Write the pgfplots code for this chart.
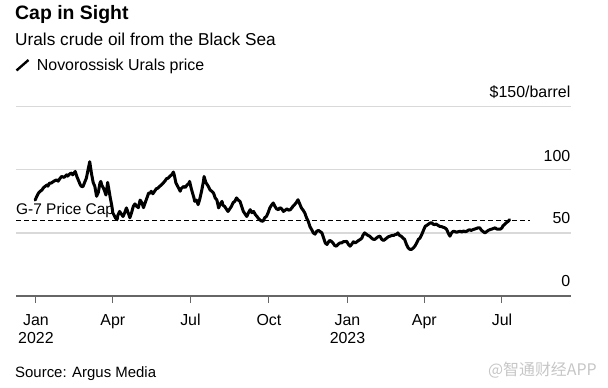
\documentclass[border=0pt]{standalone}
\usepackage{pgfplots}
\pgfplotsset{compat=1.18}
\usepackage{pgfplotstable}
\usepackage{fontspec}
\setmainfont{Liberation Sans}
\newfontfamily\cjk{Noto Sans CJK SC}
\definecolor{gridgray}{HTML}{D9D9D9}
\definecolor{axisgray}{HTML}{666666}

% day = days since 1 Jan 2022; price = USD/barrel
\pgfplotstableread{
day price
-1 76
1 79
3 81.6
5 83
7 84
9 86
13 88
14 87
16 89.5
18 89.5
21 91
24 92
26 91
28 93
30 94.7
33 94
36 96
37 95
40 97
42 97.4
43 96
46 98.7
48 94.5
52 88
53 87
55 86.6
57 90
59 93.3
61 100
63 106.4
65 97.2
67 90
69 86.8
71 79
73 82
75 89.5
76 90.8
77 88
79 85.5
80 84
82 80
84 90
85 86
87 78
89 71
90 66
93 62
95 60.5
96 64
98 67
100 65
102 63
104 66
106 69.8
108 66
110 62
112 66
114 71
116 73
118 71
120 70
122 76
124 74
126 70
128 74
130 77.7
132 81.6
134 81.6
135 83
137 81
139 83
141 85
143 85.5
145 87
147 88
149 89.5
151 91
153 93
155 93.4
157 95
159 96
161 98.2
162 96
164 89.5
166 87
169 83
170 85
173 86.8
175 86
177 88
179 89
180 90.8
182 85
184 80.3
185 78
186 75
188 76
190 72.4
192 77
194 83
196 90
197 94.7
199 90
202 86.8
204 84
206 83
208 81.6
210 77.7
212 76
214 69.8
216 73
218 75
219 72
221 71
223 69
225 67
227 69
229 71
231 74
233 75
235 77.7
237 76
239 75
241 71
243 67
245 65
247 63
249 66
251 68.4
253 66
255 67
257 64.5
259 63
260 62
262 60.5
264 59.5
266 59.2
268 62
270 63
272 66
274 69.8
276 72
278 73.7
280 71
282 69
284 68.4
286 70
288 69
290 67
292 68
294 69
296 68
298 68.4
300 70
301 71
303 72.4
305 74
307 76.3
309 73
311 69.8
313 68
315 65.8
317 62
319 59.2
321 55
323 52.6
325 50
327 49
329 51.3
331 52
333 51
335 50
337 46
339 42
341 40.8
342 42
344 44
346 43.4
348 42
350 40
352 39.5
354 41
356 42
358 42
360 43
362 43
364 43.4
366 41
368 39.5
370 41
372 43
374 42
376 43
378 44
380 44.8
382 46
383 48
385 50
387 49
389 48
391 47.4
393 46
395 45
397 44.8
399 46
401 47
403 47.4
405 45
407 44
409 44.8
411 46
413 47
415 47.4
417 48
419 48
421 48.7
423 49
424 50
426 48
428 47.4
430 46
432 44.8
434 41
436 38.2
438 37
440 36.9
442 38
444 39.5
446 42
448 44.8
450 46
452 48.7
454 52
456 55.2
458 56
460 57
462 57.9
464 58
465 57
467 56.6
469 57
471 56
473 55.2
475 55
477 54.5
479 54
481 53
483 50
485 47.4
487 50
489 51.3
491 51
493 50.5
495 51
497 51.3
499 50.7
501 51.5
503 51
505 51.3
506 52
508 52.5
510 52
512 52.6
514 53
516 53.5
518 54
520 54
522 52
524 51
526 50
528 51
530 52
532 52.6
534 53
536 53.5
538 54
540 53
542 53
544 53
546 54
547 55.5
549 56.6
551 58
553 59
555 60.5
}\urals

\pgfplotstableread{
day cap
-23.4 60
579 60
}\capline

\begin{document}
\begin{tikzpicture}
\useasboundingbox (0bp,0bp) rectangle (608bp,388bp);
\begin{axis}[
  at={(16bp,92bp)}, anchor=south west,
  scale only axis, width=554.5bp, height=189.3bp,
  xmin=-23.4, xmax=626.3, ymin=0, ymax=150,
  axis x line*=bottom, axis y line*=left,
  y axis line style={draw=none},
  x axis line style={axisgray, line width=1.2bp},
  xtick={0,90,181,273,365,455,546},
  xticklabels={{Jan\\2022},Apr,Jul,Oct,{Jan\\2023},Apr,Jul},
  xtick align=outside,
  major tick length=7bp,
  x tick style={axisgray, line width=1bp},
  xticklabel style={font=\fontsize{16}{18.6}\selectfont, align=center, text=black, inner sep=0pt, yshift=-11bp},
  ytick={50,100,150},
  yticklabels={},
  y tick style={draw=none},
  ymajorgrids,
  major y grid style={gridgray, line width=1.3bp},
  clip=false,
]
\addplot[black, line width=1.2bp, dash pattern=on 5bp off 3bp] table[x=day,y=cap]{\capline};
\addplot[black, line width=3bp, line join=round, line cap=round] table[x=day,y=price]{\urals};
\node[anchor=base west, inner sep=0pt, font=\fontsize{15.5}{18}\selectfont] at (axis cs:-23.4,60) [yshift=5.3bp] {G-7 Price Cap};
\node[anchor=base east, inner sep=0pt, font=\fontsize{16}{18}\selectfont] at (axis cs:626.3,150) [yshift=8.7bp] {\$150/barrel};
\node[anchor=base east, inner sep=0pt, font=\fontsize{16}{18}\selectfont] at (axis cs:626.3,100) [yshift=8.5bp] {100};
\node[anchor=base east, inner sep=0pt, font=\fontsize{16}{18}\selectfont] at (axis cs:626.3,50) [yshift=9.3bp] {50};
\node[anchor=base east, inner sep=0pt, font=\fontsize{16}{18}\selectfont] at (axis cs:626.3,0) [yshift=9.3bp] {0};
\end{axis}
\node[anchor=base west, inner sep=0pt, font=\bfseries\fontsize{19.5}{22}\selectfont] at (15bp,368bp) {Cap in Sight};
\node[anchor=base west, inner sep=0pt, font=\fontsize{17.3}{20}\selectfont] at (15bp,342.3bp) {Urals crude oil from the Black Sea};
\draw[black, line width=2.4bp] (16.5bp,317.5bp) -- (28.5bp,328bp);
\node[anchor=base west, inner sep=0pt, font=\fontsize{16}{19}\selectfont] at (36.7bp,317.3bp) {Novorossisk Urals price};
\node[anchor=base west, inner sep=0pt, font=\fontsize{15}{18}\selectfont] at (15bp,10.7bp) {Source: Argus Media};
\node[anchor=base east, inner sep=0pt, text=gray!45, font=\cjk\fontsize{16}{18}\selectfont] at (597bp,12.5bp) {@智通财经APP};
\end{tikzpicture}
\end{document}
